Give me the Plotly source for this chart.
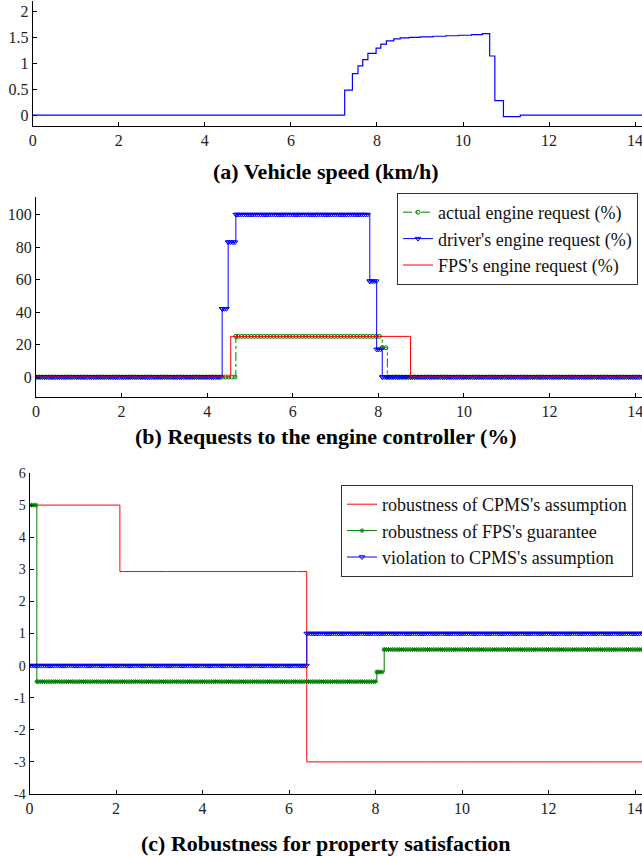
import numpy as np
import plotly.graph_objects as go

W, H = 642, 856
T_END = 14.2

# ---------------- data ----------------
# (a) Vehicle speed (km/h): step change points
speed_t = [0, 7.25, 7.43, 7.56, 7.67, 7.79, 7.98, 8.09, 8.22, 8.39, 8.54, 8.75,
           9.0, 9.3, 9.6, 9.9, 10.2, 10.45, 10.62, 10.74, 10.94, 11.33, 14.2]
speed_v = [0, 0.48, 0.80, 0.95, 1.07, 1.19, 1.29, 1.37, 1.43, 1.47, 1.49, 1.50,
           1.51, 1.52, 1.53, 1.54, 1.55, 1.57, 1.14, 0.28, -0.03, 0, 0]

# (b) Requests to the engine controller (%)
actual_t = [0, 4.67, 8.09, 8.21]
actual_v = [0, 25, 18, 0]
driver_t = [0, 4.35, 4.49, 4.67, 7.80, 7.96, 8.09]
driver_v = [0, 42, 83, 100, 59, 17, 0]
fps_req_t = [0, 4.55, 8.75]
fps_req_v = [0, 25, 0]

# (c) Robustness for property satisfaction
cpms_t = [0.17, 2.09, 6.41]
cpms_v = [5, 2.93, -3]
guar_t = [0, 0.17, 8.03, 8.20]
guar_v = [5, -0.5, -0.2, 0.5]
viol_t = [0, 6.41]
viol_v = [0, 1]

# tick labels
x_ticks = [0, 2, 4, 6, 8, 10, 12, 14]
a_yticks = [0, 0.5, 1, 1.5, 2]
a_ylabels = ["0", "0.5", "1", "1.5", "2"]
b_yticks = [0, 20, 40, 60, 80, 100]
c_yticks = [-4, -3, -2, -1, 0, 1, 2, 3, 4, 5, 6]
c_ylabels = ["-4", "-3", "-2", "-1", "0", "1", "2", "3", "4", "5", "6"]

titles = ["(a) Vehicle speed (km/h)",
          "(b) Requests to the engine controller (%)",
          "(c) Robustness for property satisfaction"]
legend_b = ["actual engine request (%)", "driver's engine request (%)", "FPS's engine request (%)"]
legend_c = ["robustness of CPMS's assumption", "robustness of FPS's guarantee",
            "violation to CPMS's assumption"]


def zoh(change_t, change_v, period, t0=None):
    """Sampled (zero-order-hold) signal including the change points."""
    ct = np.asarray(change_t, float)
    cv = np.asarray(change_v, float)
    start = ct[0] if t0 is None else t0
    samples = np.arange(start, T_END + 1e-9, period)
    t = np.unique(np.concatenate([samples, ct, [T_END]]))
    t = t[t >= ct[0] - 1e-9]
    idx = np.searchsorted(ct, t + 1e-9, side="right") - 1
    return t, cv[idx]


SERIF = "Liberation Serif"
fig = go.Figure()

# (a)
t, v = zoh(speed_t, speed_v, 0.1)
fig.add_trace(go.Scatter(x=t, y=v, mode="lines", line=dict(color="#0000FF", width=1.2, shape="hv"),
                         showlegend=False, xaxis="x", yaxis="y"))

# (b)
t, v = zoh(actual_t, actual_v, 0.075)
fig.add_trace(go.Scatter(x=t, y=v, mode="lines+markers", name=legend_b[0],
                         line=dict(color="#008000", width=1, dash="dashdot", shape="hv"),
                         marker=dict(symbol="circle-open", size=4, color="#008000", line=dict(width=1)),
                         xaxis="x2", yaxis="y2", legend="legend"))
t, v = zoh(driver_t, driver_v, 0.05)
fig.add_trace(go.Scatter(x=t, y=v, mode="lines+markers", name=legend_b[1],
                         line=dict(color="#0000FF", width=1, shape="hv"),
                         marker=dict(symbol="triangle-down-open", size=5, color="#0000FF", line=dict(width=1)),
                         xaxis="x2", yaxis="y2", legend="legend"))
t, v = zoh(fps_req_t, fps_req_v, 1.0)
fig.add_trace(go.Scatter(x=t, y=v, mode="lines", name=legend_b[2],
                         line=dict(color="#FF0000", width=1, shape="hv"),
                         xaxis="x2", yaxis="y2", legend="legend"))

# (c)
t, v = zoh(cpms_t, cpms_v, 1.0)
fig.add_trace(go.Scatter(x=t, y=v, mode="lines", name=legend_c[0],
                         line=dict(color="#FF0000", width=1, shape="hv"),
                         xaxis="x3", yaxis="y3", legend="legend2"))
t, v = zoh(guar_t, guar_v, 0.05)
fig.add_trace(go.Scatter(x=t, y=v, mode="lines+markers", name=legend_c[1],
                         line=dict(color="#008000", width=1, shape="hv"),
                         marker=dict(symbol="asterisk-open", size=4, color="#008000", line=dict(width=1, color="#008000")),
                         xaxis="x3", yaxis="y3", legend="legend2"))
t, v = zoh(viol_t, viol_v, 0.05)
fig.add_trace(go.Scatter(x=t, y=v, mode="lines+markers", name=legend_c[2],
                         line=dict(color="#0000FF", width=1, shape="hv"),
                         marker=dict(symbol="triangle-down-open", size=5, color="#0000FF", line=dict(width=1)),
                         xaxis="x3", yaxis="y3", legend="legend2"))


def px_x(p):
    return p / W


def px_y(p):
    return 1 - p / H


tickfont = dict(family=SERIF, size=16, color="#222")
axis_common = dict(showline=True, linecolor="black", linewidth=1, ticks="inside", ticklen=4,
                   tickcolor="black", showgrid=False, zeroline=False, ticklabeloverflow="allow",
                   automargin=False, mirror=False)

legend_style = dict(xanchor="left", yanchor="top", bgcolor="white", bordercolor="#333", borderwidth=1,
                    font=dict(family=SERIF, size=18, color="#111"), itemwidth=30, tracegroupgap=0)
fig.update_layout(
    width=W, height=H, margin=dict(l=0, r=0, t=0, b=0),
    font=dict(family=SERIF, size=16, color="#222"),
    plot_bgcolor="white", paper_bgcolor="white",
    xaxis=dict(domain=[px_x(32.7), 1], range=[0, 14.16], tickmode="array", tickvals=x_ticks,
               ticktext=[str(v) for v in x_ticks], anchor="y", tickfont=tickfont, **axis_common),
    yaxis=dict(domain=[px_y(126), px_y(1)], range=[-0.21, 2.2], tickmode="array", tickvals=a_yticks,
               ticktext=a_ylabels, anchor="x", tickfont=tickfont, **axis_common),
    xaxis2=dict(domain=[px_x(36), 1], range=[0, 14.16], tickmode="array", tickvals=x_ticks,
                ticktext=[str(v) for v in x_ticks], anchor="y2", tickfont=tickfont, **axis_common),
    yaxis2=dict(domain=[px_y(397), px_y(197)], range=[-12.3, 110.8], tickmode="array", tickvals=b_yticks,
                ticktext=[str(v) for v in b_yticks], anchor="x2", tickfont=tickfont, **axis_common),
    xaxis3=dict(domain=[px_x(29.5), 1], range=[0, 14.16], tickmode="array", tickvals=x_ticks,
                ticktext=[str(v) for v in x_ticks], anchor="y3", tickfont=tickfont, **axis_common),
    yaxis3=dict(domain=[px_y(794), px_y(473)], range=[-4, 6], tickmode="array", tickvals=c_yticks,
                ticktext=c_ylabels, anchor="x3", tickfont=dict(family=SERIF, size=14, color="#222"),
                **axis_common),
    legend=dict(x=px_x(397), y=px_y(193), **legend_style),
    legend2=dict(x=px_x(341), y=px_y(485), **legend_style),
)

for title, yc in zip(titles, [172, 437, 843]):
    fig.add_annotation(text="<b>%s</b>" % title, x=px_x(326), y=px_y(yc), xref="paper", yref="paper",
                       xanchor="center", yanchor="middle", showarrow=False,
                       font=dict(family=SERIF, size=22, color="black"))

fig.write_html("out.html", config={"displayModeBar": False},
               post_script="document.body.style.margin='0px';document.body.style.overflow='hidden';")
